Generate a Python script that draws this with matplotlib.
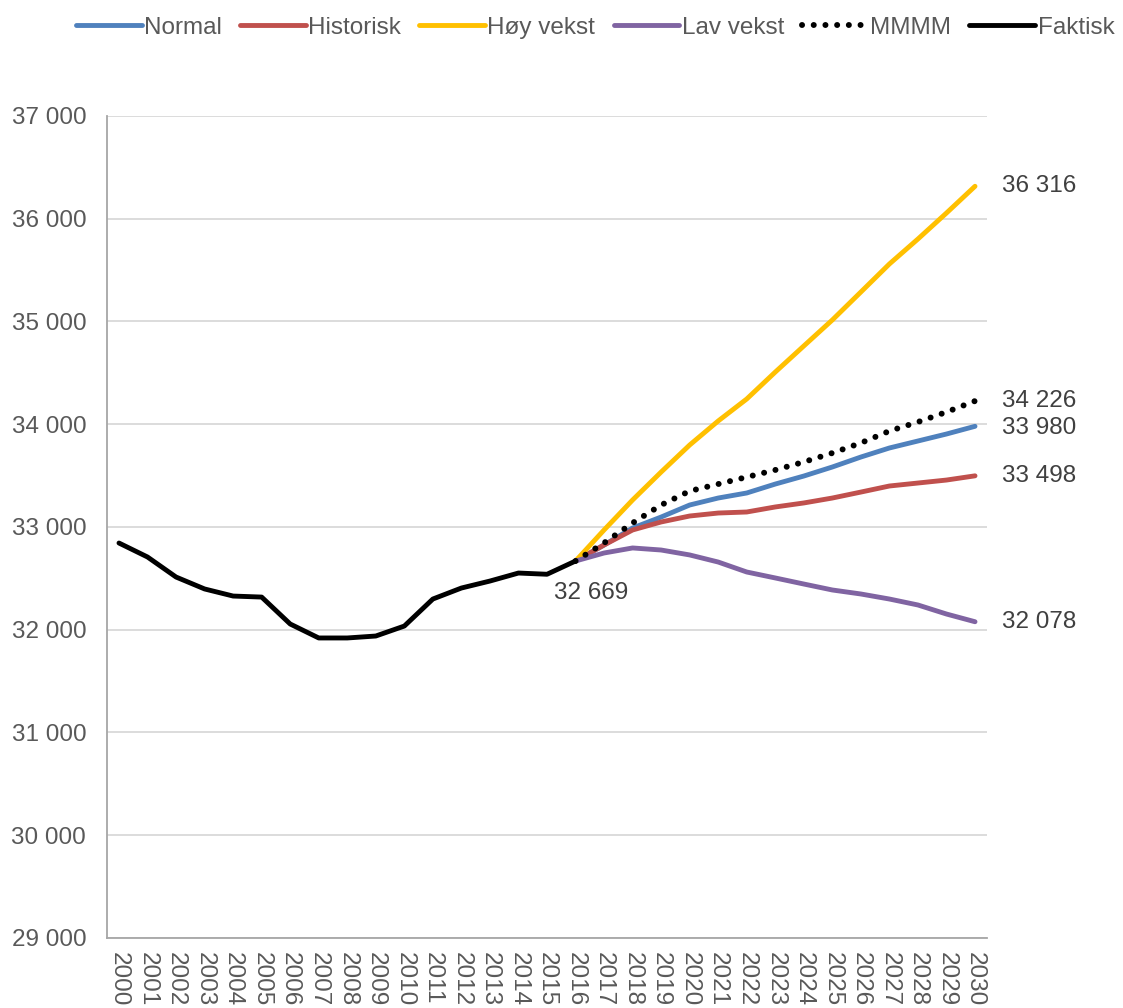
import matplotlib.pyplot as plt

plt.rcParams['font.family'] = ['Liberation Sans', 'DejaVu Sans']

aar = list(range(2000, 2031))
aar_fakt = list(range(2000, 2017))
aar_proj = list(range(2016, 2031))

faktisk = [32844, 32708, 32513, 32397, 32328, 32318, 32056, 31920, 31920, 31939,
           32036, 32299, 32406, 32474, 32552, 32540, 32669]

normal = [32669, 32825, 32990, 33097, 33214, 33282, 33331, 33418, 33496, 33584,
          33681, 33769, 33837, 33905, 33980]
historisk = [32669, 32825, 32971, 33049, 33107, 33136, 33146, 33195, 33234, 33282,
             33340, 33399, 33428, 33457, 33498]
hoy = [32669, 32971, 33263, 33535, 33798, 34032, 34246, 34508, 34762, 35015,
       35287, 35560, 35803, 36056, 36316]
lav = [32669, 32747, 32796, 32776, 32728, 32659, 32562, 32504, 32445, 32387,
       32348, 32299, 32241, 32153, 32078]
mmmm = [32669, 32845, 33039, 33214, 33350, 33418, 33486, 33555, 33633, 33720,
        33818, 33934, 34022, 34119, 34226]

fs = 17.5
fig = plt.figure(figsize=(11.23, 10.08), dpi=100)
ax = fig.add_axes([107/1123, 1 - 938/1008, 880/1123, 822/1008])

lw = 3.5
ax.plot(aar_proj, normal, color="#4f81bd", lw=lw, label="Normal", solid_capstyle="round")
ax.plot(aar_proj, historisk, color="#c0504d", lw=lw, label="Historisk", solid_capstyle="round")
ax.plot(aar_proj, hoy, color="#ffc000", lw=lw, label="Høy vekst", solid_capstyle="round")
ax.plot(aar_proj, lav, color="#8064a2", lw=lw, label="Lav vekst", solid_capstyle="round")
ax.plot(aar_proj, mmmm, color="black", lw=4.3, linestyle=(0, (0.01, 1.95)),
        dash_capstyle="round", label="MMMM")
ax.plot(aar_fakt, faktisk, color="black", lw=lw, label="Faktisk", solid_capstyle="round")

# etiketter ved siste verdi
for serie in [normal, historisk, hoy, lav, mmmm]:
    v = serie[-1]
    dy = 0
    if serie is normal:
        dy = -20
    ax.text(2030.95, v + dy, f"{v:,}".replace(",", " "), fontsize=fs,
            color="#404040", va="center", ha="left")
ax.text(2016.55, faktisk[-1] - 310, f"{faktisk[-1]:,}".replace(",", " "), fontsize=fs,
        color="#404040", va="center", ha="center")

ax.set_xlim(1999.58, 2030.42)
ax.set_ylim(29000, 37000)
ax.set_xticks(aar)
ax.set_xticklabels([str(a) for a in aar], rotation=270, fontsize=fs, color="#595959")
yt = list(range(29000, 37001, 1000))
ax.set_yticks(yt)
ax.set_yticklabels([f"{v:,}".replace(",", " ") for v in yt], fontsize=fs, color="#595959")
ax.tick_params(axis="y", length=0, pad=15)
ax.tick_params(axis="x", length=0, pad=10)
ax.grid(axis="y", color="#d9d9d9", lw=1.3)
ax.set_axisbelow(True)
for s in ["top", "right"]:
    ax.spines[s].set_visible(False)
ax.spines["left"].set_color("#a6a6a6")
ax.spines["bottom"].set_color("#a6a6a6")
ax.spines["left"].set_linewidth(1.3)
ax.spines["bottom"].set_linewidth(1.3)

fig.legend(loc="upper center", bbox_to_anchor=(0.53, 1.005), ncol=6, frameon=False,
           fontsize=fs, handlelength=2.7, handletextpad=0.1, columnspacing=0.75,
           labelcolor="#595959")

fig.savefig("out.png", dpi=100)
